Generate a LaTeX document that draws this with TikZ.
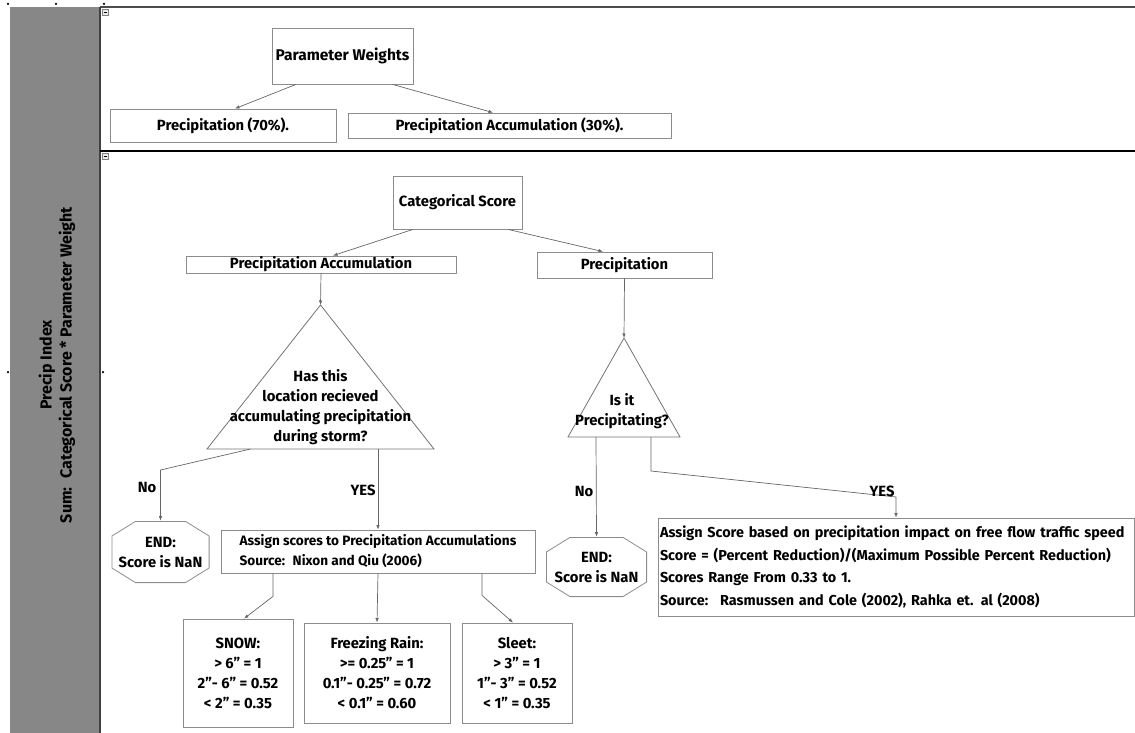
\documentclass[tikz,border=0pt]{standalone}
\usepackage{fontspec}
\setmainfont{Fira Sans}
\usetikzlibrary{arrows.meta}
\tikzset{%
   box/.style={draw=black!45, line width=0.8pt, align=center, inner sep=0pt,
      font=\bfseries\fontsize{14.8}{20}\selectfont},
   endbox/.style={box, draw=none, path picture={
      \draw[black!45, line width=0.8pt]
         ([shift={(24pt,-0.4pt)}]path picture bounding box.north west) --
         ([shift={(-24pt,-0.4pt)}]path picture bounding box.north east) --
         ([shift={(-0.4pt,-15pt)}]path picture bounding box.north east) --
         ([shift={(-0.4pt,15pt)}]path picture bounding box.south east) --
         ([shift={(-24pt,0.4pt)}]path picture bounding box.south east) --
         ([shift={(24pt,0.4pt)}]path picture bounding box.south west) --
         ([shift={(0.4pt,15pt)}]path picture bounding box.south west) --
         ([shift={(0.4pt,-15pt)}]path picture bounding box.north west) -- cycle;}},
   arr/.style={draw=black!60, line width=0.7pt, -{Latex[length=4.5pt,width=3.5pt]}},
   tri/.style={draw=black!55, line width=0.8pt},
   lbl/.style={font=\bfseries\fontsize{14.8}{20}\selectfont, inner sep=0pt},
   handle/.style={circle, fill=black, inner sep=0pt, minimum size=2.5pt},
}

\begin{document}
\begin{tikzpicture}[x=1pt, y=-1pt]
      \useasboundingbox (0,0) rectangle (1135,733);
      \fill[black!47] (10,7) rectangle (100,733);
      \draw[black!70, line width=1.6pt] (100,7) -- (1135,7);
      \draw[black!75, line width=1.2pt] (100,7) -- (100,733);
      \draw[black, line width=2.5pt] (100,151) -- (1135,151);
      \foreach \x/\y in {8/4, 56/4, 104/4, 8/372, 103/372}
         \node[handle] at (\x,\y) {};
      \foreach \y in {12, 156} {
         \draw[black!50, fill=black!8] (102,\y-3) rectangle (108,\y+3);
         \draw[black] (103.5,\y) -- (106.5,\y);
      }
      \node[lbl, rotate=90, align=center, font=\bfseries\fontsize{16}{20}\selectfont] (band) at (57,365)
         {Precip Index\\Sum:~ Categorical Score * Parameter Weight};

      \node[box, minimum width=141pt, minimum height=56pt, font=\bfseries\fontsize{15.5}{20}\selectfont] (pw) at (342.5,56) {Parameter Weights};
      \node[box, minimum width=226pt, minimum height=33pt] (p70) at (223,125.5) {Precipitation (70\%).};
      \node[box, minimum width=323pt, minimum height=25pt] (pa30) at (509.5,125.5) {Precipitation Accumulation (30\%).};
      \draw[arr] ([xshift=-46.5pt]pw.south) -- ([xshift=12pt]p70.north);
      \draw[arr] ([xshift=50pt]pw.south) -- ([xshift=-16.5pt]pa30.north);

      \node[box, minimum width=129pt, minimum height=53pt] (cs) at (457.5,202.5) {Categorical Score};
      \node[box, minimum width=270pt, minimum height=17pt] (pa) at (321,264.5) {Precipitation Accumulation};
      \node[box, minimum width=175pt, minimum height=26pt] (pr) at (624.5,265) {Precipitation};
      \draw[arr] ([xshift=-44.5pt]cs.south) -- ([xshift=12pt]pa.north);
      \draw[arr] ([xshift=50.5pt]cs.south) -- ([xshift=-21.5pt]pr.north);

      \coordinate (t1) at (320.5,305);
      \coordinate (t1base) at (320.5,449);
      \draw[tri] (t1) -- (207,449) -- (434,449) -- cycle;
      \node[lbl, align=center] (q1) at (320.5,407)
         {Has this\\location recieved\\accumulating precipitation\\during storm?};
      \coordinate (t2) at (624,338);
      \coordinate (t2base) at (624,437);
      \draw[tri] (t2) -- (568,437) -- (680,437) -- cycle;
      \node[lbl, align=center] (q2) at (622,411) {Is it\\Precipitating?};
      \draw[arr] (pa.south) -- (t1);
      \draw[arr] (pr.south) -- (t2);

      \node[endbox, minimum width=98pt, minimum height=62pt] (end1) at (160.5,552) {END:\\Score is NaN};
      \node[box, minimum width=314pt, minimum height=43pt, align=left,
         font=\bfseries\fontsize{13.6}{20}\selectfont] (as) at (378,551.5)
         {Assign scores to Precipitation Accumulations\\Source:~ Nixon and Qiu (2006)};
      \draw[arr] ([xshift=-70pt]t1base) -- ++(-90,21) -- (end1.north);
      \draw[arr] (as.north |- t1base) -- (as.north);
      \node[lbl] (no1) at (147,487) {No};
      \node[lbl] (yes1) at (363,490) {YES};

      \node[box, minimum width=110pt, minimum height=108pt] (snow) at (238,673)
         {SNOW:\\> 6" = 1\\2"- 6" = 0.52\\< 2" = 0.35};
      \node[box, minimum width=146pt, minimum height=100pt] (frz) at (377,673)
         {Freezing Rain:\\>= 0.25" = 1\\0.1"- 0.25" = 0.72\\< 0.1" = 0.60};
      \node[box, minimum width=110pt, minimum height=100pt] (slt) at (517,673)
         {Sleet:\\> 3" = 1\\1"- 3" = 0.52\\< 1" = 0.35};
      \draw[arr] ([xshift=-105pt]as.south) -- ++(0,23) -- ([xshift=6pt]snow.north);
      \draw[arr] (as.south) -- (frz.north);
      \draw[arr] ([xshift=104pt]as.south) -- ++(0,22) -- ([xshift=-4pt]slt.north);

      \node[endbox, minimum width=101pt, minimum height=60pt] (end2) at (596.5,567) {END:\\Score is NaN};
      \node[box, minimum width=476pt, minimum height=98pt, align=left, text width=472pt,
         font=\bfseries\fontsize{14.4}{22.7}\selectfont] (big) at (896,567)
         {Assign Score based on precipitation impact on free flow traffic speed\\
          Score = (Percent Reduction)/(Maximum Possible Percent Reduction)\\
          Scores Range From 0.33 to 1.\\
          Source:~ Rasmussen and Cole (2002), Rahka et. al (2008)};
      \draw[arr] ([xshift=-28pt]t2base) -- (end2.north);
      \draw[arr] ([xshift=27pt]t2base) -- ++(0,34) -- ++(245,26) -- (big.north);
      \node[lbl] (no2) at (584,491) {No};
      \node[lbl] (yes2) at (882,491) {YES};
\end{tikzpicture}
\end{document}
